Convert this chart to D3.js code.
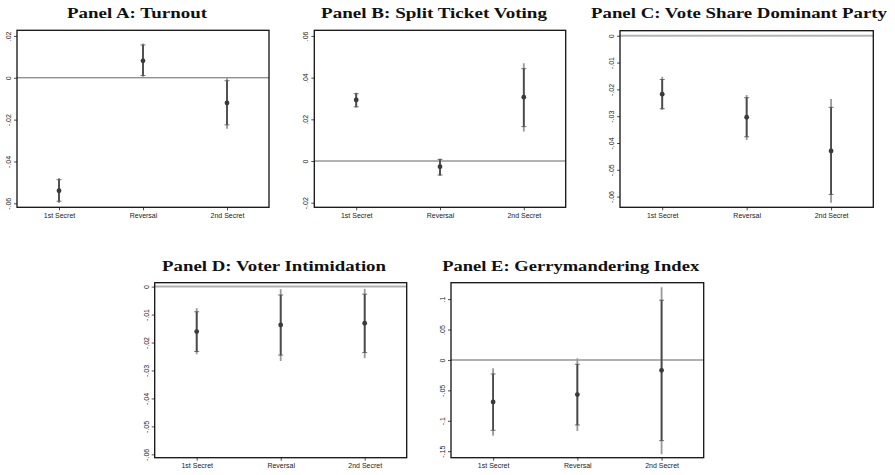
<!DOCTYPE html>
<html>
<head>
<meta charset="utf-8">
<script src="https://cdn.jsdelivr.net/npm/d3@7"></script>
<style>
  body { margin: 0; background: #fff; }
  svg { display: block; }
  .title { font-family: "Liberation Serif", "DejaVu Serif", serif; font-weight: bold; font-size: 15.5px; fill: #111; }
  .tick text { font-family: "Liberation Sans", Arial, sans-serif; font-size: 7px; fill: #222; }
</style>
</head>
<body>
<svg id="chart" width="895" height="475"></svg>
<script>
// categories shared by all panels
const categories = ['1st Secret', 'Reversal', '2nd Secret'];

// Panel A: Turnout
const turnoutCoef = [-0.0540, 0.0081, -0.0120];
const turnoutLo90 = [-0.0590, 0.0011, -0.0225];
const turnoutHi90 = [-0.0487, 0.0157, -0.0014];
const turnoutLo95 = [-0.0598, 0.0005, -0.0243];
const turnoutHi95 = [-0.0479, 0.0164, 0.0001];
const turnoutTicks = [0.02, 0, -0.02, -0.04, -0.06];
const turnoutTickLabels = ['.02', '0', '-.02', '-.04', '-.06'];

// Panel B: Split Ticket Voting
const splitCoef = [0.0293, -0.0027, 0.0306];
const splitLo90 = [0.0260, -0.0067, 0.0165];
const splitHi90 = [0.0323, 0.0008, 0.0443];
const splitLo95 = [0.0256, -0.0072, 0.0141];
const splitHi95 = [0.0328, 0.0011, 0.0469];
const splitTicks = [0.06, 0.04, 0.02, 0, -0.02];
const splitTickLabels = ['.06', '.04', '.02', '0', '-.02'];

// Panel C: Vote Share Dominant Party
const shareCoef = [-0.0218, -0.0304, -0.0430];
const shareLo90 = [-0.0272, -0.0377, -0.0592];
const shareHi90 = [-0.0163, -0.0231, -0.0267];
const shareLo95 = [-0.0277, -0.0389, -0.0623];
const shareHi95 = [-0.0153, -0.0221, -0.0236];
const shareTicks = [0, -0.01, -0.02, -0.03, -0.04, -0.05, -0.06];
const shareTickLabels = ['0', '-.01', '-.02', '-.03', '-.04', '-.05', '-.06'];

// Panel D: Voter Intimidation
const intimCoef = [-0.0161, -0.0137, -0.0131];
const intimLo90 = [-0.0232, -0.0245, -0.0236];
const intimHi90 = [-0.0090, -0.0030, -0.0027];
const intimLo95 = [-0.0242, -0.0266, -0.0256];
const intimHi95 = [-0.0077, -0.0009, -0.0008];
const intimTicks = [0, -0.01, -0.02, -0.03, -0.04, -0.05, -0.06];
const intimTickLabels = ['0', '-.01', '-.02', '-.03', '-.04', '-.05', '-.06'];

// Panel E: Gerrymandering Index
const gerryCoef = [-0.0691, -0.0570, -0.0170];
const gerryLo90 = [-0.1157, -0.1069, -0.1327];
const gerryHi90 = [-0.0230, -0.0071, 0.0982];
const gerryLo95 = [-0.1245, -0.1168, -0.1551];
const gerryHi95 = [-0.0137, 0.0027, 0.1195];
const gerryTicks = [0.1, 0.05, 0, -0.05, -0.1, -0.15];
const gerryTickLabels = ['.1', '.05', '0', '-.05', '-.1', '-.15'];

const panels = [
  { title: 'Panel A: Turnout', titleX: 137, titleY: 18, titleW: 140,
    x: 17, y: 30.3, w: 252, h: 177, domain: [-0.0619, 0.0227],
    zero: { color: '#666', width: 1 },
    coef: turnoutCoef, lo90: turnoutLo90, hi90: turnoutHi90, lo95: turnoutLo95, hi95: turnoutHi95,
    ticks: turnoutTicks, labels: turnoutTickLabels },
  { title: 'Panel B: Split Ticket Voting', titleX: 434, titleY: 18, titleW: 226,
    x: 314.3, y: 30.3, w: 251.4, h: 177, domain: [-0.0222, 0.0627],
    zero: { color: '#999', width: 1.4 },
    coef: splitCoef, lo90: splitLo90, hi90: splitHi90, lo95: splitLo95, hi95: splitHi95,
    ticks: splitTicks, labels: splitTickLabels },
  { title: 'Panel C: Vote Share Dominant Party', titleX: 739, titleY: 18, titleW: 296,
    x: 620, y: 30.7, w: 253.3, h: 176.6, domain: [-0.0640, 0.0019],
    zero: { color: '#b5b5b5', width: 2 },
    coef: shareCoef, lo90: shareLo90, hi90: shareHi90, lo95: shareLo95, hi95: shareHi95,
    ticks: shareTicks, labels: shareTickLabels },
  { title: 'Panel D: Voter Intimidation', titleX: 274, titleY: 271, titleW: 224,
    x: 154.7, y: 282.7, w: 252, h: 175, domain: [-0.0612, 0.0014],
    zero: { color: '#b0b0b0', width: 2 },
    coef: intimCoef, lo90: intimLo90, hi90: intimHi90, lo95: intimLo95, hi95: intimHi95,
    ticks: intimTicks, labels: intimTickLabels },
  { title: 'Panel E: Gerrymandering Index', titleX: 570.7, titleY: 271, titleW: 257,
    x: 451, y: 282.7, w: 252.7, h: 175, domain: [-0.1607, 0.127],
    zero: { color: '#b0b0b0', width: 2 },
    coef: gerryCoef, lo90: gerryLo90, hi90: gerryHi90, lo95: gerryLo95, hi95: gerryHi95,
    ticks: gerryTicks, labels: gerryTickLabels }
];

const svg = d3.select('#chart');

panels.forEach(p => {
  svg.append('text')
    .attr('class', 'title')
    .attr('x', p.titleX)
    .attr('y', p.titleY)
    .attr('text-anchor', 'middle')
    .attr('textLength', p.titleW)
    .attr('lengthAdjust', 'spacingAndGlyphs')
    .text(p.title);

  const g = svg.append('g').attr('transform', `translate(${p.x},${p.y})`);

  const x = d3.scalePoint().domain(categories).range([0, p.w]).padding(0.5);
  const y = d3.scaleLinear().domain(p.domain).range([p.h, 0]);

  // zero reference line
  g.append('line')
    .attr('x1', 0).attr('x2', p.w)
    .attr('y1', y(0)).attr('y2', y(0))
    .attr('stroke', p.zero.color)
    .attr('stroke-width', p.zero.width);

  // y axis
  const yAxis = g.append('g')
    .call(d3.axisLeft(y)
      .tickValues(p.ticks)
      .tickSize(3)
      .tickFormat((d, i) => p.labels[i]));
  yAxis.select('.domain').remove();
  yAxis.selectAll('.tick line').attr('stroke', '#222').attr('stroke-width', 0.8);
  yAxis.selectAll('.tick text')
    .attr('x', 0).attr('dy', null)
    .attr('text-anchor', 'middle')
    .attr('transform', 'translate(-6,0) rotate(-90)');

  // x axis
  const xAxis = g.append('g')
    .attr('transform', `translate(0,${p.h})`)
    .call(d3.axisBottom(x).tickSize(3));
  xAxis.select('.domain').remove();
  xAxis.selectAll('.tick line').attr('stroke', '#222').attr('stroke-width', 0.8);
  xAxis.selectAll('.tick text').attr('y', 10.5).attr('dy', null);

  const rows = categories.map((c, i) => ({
    c, coef: p.coef[i], lo90: p.lo90[i], hi90: p.hi90[i], lo95: p.lo95[i], hi95: p.hi95[i]
  }));

  // 95% interval
  g.selectAll('.ci95').data(rows).enter().append('line')
    .attr('x1', d => x(d.c)).attr('x2', d => x(d.c))
    .attr('y1', d => y(d.hi95)).attr('y2', d => y(d.lo95))
    .attr('stroke', '#9a9a9a').attr('stroke-width', 1.8);

  // 90% interval
  g.selectAll('.ci90').data(rows).enter().append('line')
    .attr('x1', d => x(d.c)).attr('x2', d => x(d.c))
    .attr('y1', d => y(d.hi90)).attr('y2', d => y(d.lo90))
    .attr('stroke', '#4a4a4a').attr('stroke-width', 1.8);

  // caps at 90% ends
  rows.forEach(d => {
    [d.lo90, d.hi90].forEach(v => {
      g.append('line')
        .attr('x1', x(d.c) - 2.5).attr('x2', x(d.c) + 2.5)
        .attr('y1', y(v)).attr('y2', y(v))
        .attr('stroke', '#505050').attr('stroke-width', 0.8);
    });
  });

  // point estimates
  g.selectAll('.pt').data(rows).enter().append('circle')
    .attr('cx', d => x(d.c)).attr('cy', d => y(d.coef))
    .attr('r', 2.4)
    .attr('fill', '#3a3a3a');

  // frame
  g.append('rect')
    .attr('x', 0).attr('y', 0)
    .attr('width', p.w).attr('height', p.h)
    .attr('fill', 'none')
    .attr('stroke', '#111')
    .attr('stroke-width', 1.3);
});
</script>
</body>
</html>
